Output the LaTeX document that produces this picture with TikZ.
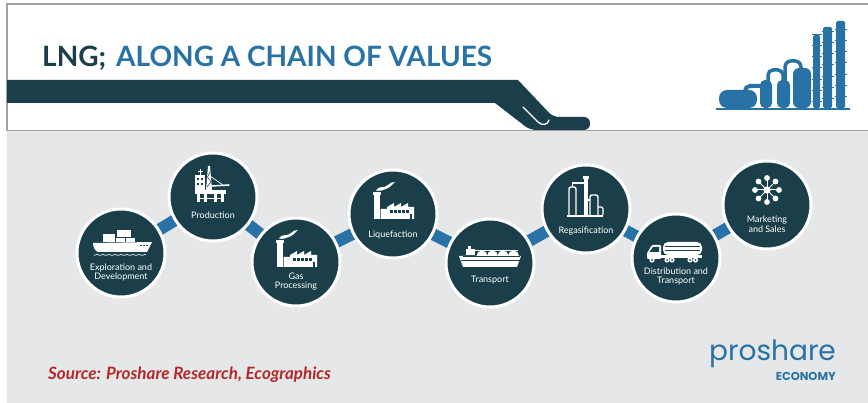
\documentclass[tikz,border=0pt]{standalone}
\usepackage{fontspec}
\setmainfont{Lato}
\newfontfamily\logofont{Poppins}
\usetikzlibrary{calc}

\definecolor{deepteal}{RGB}{26,63,75}
\definecolor{chainblue}{RGB}{40,114,166}
\definecolor{panelgray}{RGB}{230,231,232}
\definecolor{rulegray}{RGB}{160,162,165}
\definecolor{srcred}{RGB}{178,40,42}

\pgfdeclarelayer{bg}
\pgfdeclarelayer{links}
\pgfsetlayers{bg,links,main}

\tikzset{
  stage/.style={circle, draw=white, line width=3pt, fill=deepteal,
                minimum size=88pt, inner sep=0pt},
  link/.style={draw=chainblue, line width=12pt},
  lbl/.style={text=white, align=center, inner sep=0pt,
              font=\fontsize{9}{9.6}\selectfont},
  rule/.style={draw=rulegray, line width=1.6pt},
  % cargo ship on waves
  shipglyph/.pic={
    \fill[white] (-18,-19) rectangle (-6,-11);
    \fill[white] (-4,-23) rectangle (10,-16);
    \fill[white] (-5,-15) rectangle (4,-11);
    \fill[white] (5,-15) rectangle (14,-11);
    \fill[white] (-28,-10) -- (31,-11) -- (26,-1) -- (-23,-1)
      .. controls (-26,-2) and (-28,-6) .. cycle;
    \foreach \wx in {19,22,25} \fill[deepteal] (\wx,-8) rectangle ++(2,1.2);
    \draw[white, line width=0.6pt] plot[domain=-27:25, samples=90]
      (\x, {1.2+1.1*abs(sin(\x*30))});
  },
  % offshore oil rig
  rigglyph/.pic={
    \fill[white] (-18,-22) rectangle (-8,-7);
    \foreach \wx in {-16,-12} \foreach \wy in {-19,-14}
      \fill[deepteal] (\wx,\wy) rectangle ++(2,2);
    \draw[white, line width=1pt] (-13,-22) -- (-13,-28);
    \draw[white, line width=0.8pt] (-15.5,-26) -- (-10.5,-26);
    \fill[white] (-7,-7) -- (-5,-31) -- (-3,-31) -- (-1,-7) -- cycle;
    \draw[deepteal, line width=0.5pt] (-6,-10) -- (-2,-15) -- (-5.5,-20) -- (-3,-25);
    \draw[white, line width=1.5pt, line cap=round] (-1,-11) -- (16,-12);
    \draw[white, line width=0.7pt] (-3,-21) -- (10,-12);
    \fill[white] (-18,-7) rectangle (13,-3);
    \foreach \lx in {-16,-9,1,8} \fill[white] (\lx,-3) rectangle ++(2.6,8);
    \draw[white, line width=0.8pt] (-16,1) -- (10.6,1);
  },
  % factory with chimney and smoke
  factoryglyph/.pic={
    \fill[white] (-19,-20) rectangle (-13.5,5);
    \fill[white] (-20,-22) rectangle (-12.5,-19);
    \fill[white] (-17,-23.5) .. controls (-14,-29) and (-9,-25) .. (-5,-29)
      .. controls (-3,-31) and (-1,-32) .. (2,-32)
      .. controls (-1,-29.5) and (-3,-26.5) .. (-7,-25)
      .. controls (-10,-24) and (-13,-22.5) .. cycle;
    \fill[white] (-12.5,5) -- (-12.5,-5) -- (-6,-5) -- (-6,-7) -- (1,-11)
      -- (1,-7) -- (8,-11) -- (8,-7) -- (15,-11) -- (15,-7) -- (21,-7)
      -- (21,5) -- cycle;
    \foreach \wx in {-3,1,5,9,13} \fill[deepteal] (\wx,-3.5) rectangle ++(2.5,2.5);
    \fill[deepteal] (16.5,0) rectangle (19,5);
  },
  % LNG carrier
  lngglyph/.pic={
    \foreach \dx in {-8,2.5,13,23.5} \fill[white] (\dx,-7) circle[radius=5.5];
    \fill[white] (-31,-7) -- (31,-7) -- (27,4) -- (-27,4) -- cycle;
    \draw[deepteal, line width=0.9pt] (-29.5,-3) -- (29.5,-3);
    \draw[deepteal, line width=0.9pt] (-27,-7) -- (30,-7);
    \fill[white] (-24,-14) rectangle (-15,-7.5);
    \fill[white] (-22,-17) rectangle (-19,-14);
    \draw[white, line width=0.6pt] (-15,-13) -- (28,-13);
  },
  % regasification plant
  refineryglyph/.pic={
    \fill[white] (-19,6) rectangle (17,8.5);
    \draw[white, line width=1.4pt, rounded corners=2pt]
      (-17,6) -- (-17,-22) -- (-10,-22) -- (-10,6);
    \draw[white, line width=1.2pt] (-13.5,-22) -- (-13.5,-26) -- (-2,-26);
    \fill[white] (-2.2,-31) rectangle (2.2,6);
    \fill[white] (-3.2,-33) rectangle (3.2,-30);
    \draw[white, line width=1.4pt, rounded corners=2pt]
      (4,6) -- (4,-14) -- (12,-14) -- (12,6);
    \draw[white, line width=1.2pt] (2,-9) -- (4,-9);
    \draw[white, line width=1.4pt, rounded corners=1.5pt]
      (12,-2) -- (17,-2) -- (17,6);
  },
  % tanker truck
  truckglyph/.pic={
    \fill[white, rounded corners=5pt] (-13,-16) rectangle (26,-3);
    \draw[deepteal, line width=1pt] (-11,-11.5) -- (24,-11.5);
    \draw[deepteal, line width=0.8pt] (-11,-7.5) -- (24,-7.5);
    \fill[white, rounded corners=1pt] (-15,1) -- (-29,1) -- (-29,-5)
      -- (-24,-13) -- (-15,-13) -- cycle;
    \fill[deepteal] (-23,-11) -- (-17,-11) -- (-17,-6) -- (-26.5,-6) -- cycle;
    \fill[white] (-15,-3) rectangle (26,0);
    \foreach \wx in {-24,-9,-4,14,19.5} {
      \fill[white] (\wx,2) circle[radius=2.6];
      \fill[deepteal] (\wx,2) circle[radius=1];
    }
  },
  % hub and spokes
  networkglyph/.pic={
    \fill[white] (0,-15) circle[radius=3.6];
    \foreach \a in {0,45,...,315} {
      \draw[white, line width=1pt] (0,-15) -- ++(\a:11);
      \fill[white] ($(0,-15)+(\a:12)$) circle[radius=2.9];
    }
  }
}

\begin{document}
\begin{tikzpicture}[x=1pt, y=-1pt]
\useasboundingbox (0,0) rectangle (868,403);

% panels
\begin{pgfonlayer}{bg}
  \fill[white] (0,0) rectangle (868,403);
  \fill[panelgray] (7,131) rectangle (868,403);
  \draw[rule] (868,4) -- (7,4) -- (7,130.5) -- (868,130.5);
\end{pgfonlayer}

% header band ending in a hand
\fill[deepteal] (7,80) -- (518,80) [rounded corners=6pt] -- (553,117)
  -- (590,117) -- (590,130) -- (530,130) [sharp corners] -- (495,103)
  -- (7,103) -- cycle;
\draw[white, line width=1.3pt, line cap=round] (523,107) -- (538,122)
  .. controls (542,126) and (548,125) .. (549,120);

% title
\node[anchor=base west, inner sep=0pt, font=\fontsize{28}{32}\selectfont\bfseries]
  (title) at (42,67)
  {\textcolor{deepteal}{LNG;}\hspace{10pt}\textcolor{chainblue}{ALONG A CHAIN OF VALUES}};

% refinery emblem
\fill[chainblue] (716,108) rectangle (850,110.5);
\fill[chainblue, rounded corners=8pt] (719,90) rectangle (757,108);
\draw[chainblue, line width=4pt, rounded corners=5pt]
  (745,92) -- (745,86) -- (765,86) -- (765,92);
\fill[chainblue, rounded corners=5pt] (760,80) rectangle (772,108);
\fill[chainblue, rounded corners=5pt] (777,80) rectangle (790,108);
\draw[chainblue, line width=3.5pt, rounded corners=5pt]
  (768,82) -- (768,70) -- (783,70) -- (783,82);
\fill[chainblue, rounded corners=6pt] (793,68) rectangle (811,108);
\draw[chainblue, line width=3.5pt, rounded corners=6pt]
  (785,82) -- (785,61) -- (801,61) -- (801,70);
\fill[chainblue, rounded corners=1.5pt] (813,35) rectangle (820,108);
\fill[chainblue, rounded corners=1.5pt] (823,27) rectangle (832,108);
\fill[chainblue, rounded corners=1.5pt] (836,21) rectangle (845,108);
\foreach \ty in {31,42,53,64,76,87,98} {
  \draw[chainblue, line width=0.9pt] (811.5,\ty+3) -- (821.5,\ty+3);
  \draw[chainblue, line width=0.9pt] (821.5,\ty) -- (833.5,\ty);
  \draw[chainblue, line width=0.9pt] (834.5,\ty-2) -- (846.5,\ty-2);
}

% value chain stages
\node[stage] (c1) at (121,253) {};
\node[stage] (c2) at (213,197) {};
\node[stage] (c3) at (296,262) {};
\node[stage] (c4) at (393,214) {};
\node[stage] (c5) at (490,263) {};
\node[stage] (c6) at (586,209) {};
\node[stage] (c7) at (676,258) {};
\node[stage] (c8) at (767,205) {};

\begin{pgfonlayer}{links}
  \foreach \a/\b in {c1/c2,c2/c3,c3/c4,c4/c5,c5/c6,c6/c7,c7/c8}
    \draw[link] (\a.center) -- (\b.center);
\end{pgfonlayer}

\pic at (c1.center) {shipglyph};
\pic at (c2.center) {rigglyph};
\pic at (c3.center) {factoryglyph};
\pic at (c4.center) {factoryglyph};
\pic at (c5.center) {lngglyph};
\pic at (c6.center) {refineryglyph};
\pic at (c7.center) {truckglyph};
\pic at (c8.center) {networkglyph};

\node[lbl] (l1) at (121,272.5) {Exploration and\\Development};
\node[lbl] (l2) at (213,215) {Production};
\node[lbl] (l3) at (296,281.5) {Gas\\Processing};
\node[lbl] (l4) at (393,235) {Liquefaction};
\node[lbl] (l5) at (490,280) {Transport};
\node[lbl] (l6) at (586,231) {Regasification};
\node[lbl] (l7) at (676,276.5) {Distribution and\\Transport};
\node[lbl] (l8) at (767,224.5) {Marketing\\and Sales};

% footer
\node[anchor=base west, inner sep=0pt, text=srcred,
      font=\fontsize{17}{20}\selectfont\bfseries\itshape]
  (src) at (48,380) {Source: Proshare Research, Ecographics};
\node[anchor=base east, inner sep=0pt, text=chainblue,
      font=\logofont\fontsize{28}{30}\selectfont]
  (logo) at (836,361) {proshare};
\node[anchor=base east, inner sep=0pt, text=chainblue,
      font=\logofont\fontsize{11.5}{13}\selectfont\bfseries]
  (eco) at (836,381) {ECONOMY};
\end{tikzpicture}
\end{document}
